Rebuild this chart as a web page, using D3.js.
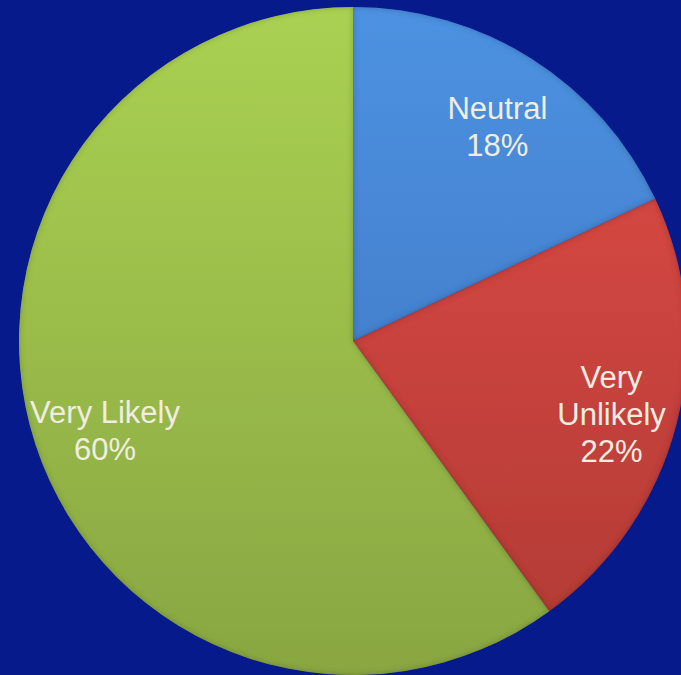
<!DOCTYPE html>
<html>
<head>
<meta charset="utf-8">
<script src="https://cdn.jsdelivr.net/npm/d3@7"></script>
<style>
  html, body { margin: 0; padding: 0; background: #061a8c; }
  svg { display: block; }
</style>
</head>
<body>
<script>
// Survey responses
const categories = ["Neutral", "Very Unlikely", "Very Likely"];
const values = [18, 22, 60];
const labelLines = [["Neutral", "18%"], ["Very", "Unlikely", "22%"], ["Very Likely", "60%"]];
const topColors = ["#4d92e2", "#e24c48", "#aad152"];
const bottomColors = ["#3b70b9", "#b03a34", "#89a642"];

const width = 681, height = 675;
const cx = 353, cy = 341, radius = 334;

const svg = d3.select("body").append("svg")
  .attr("width", width).attr("height", height);

svg.append("rect").attr("width", width).attr("height", height).attr("fill", "#061a8c");

const defs = svg.append("defs");
categories.forEach((c, i) => {
  const g = defs.append("linearGradient")
    .attr("id", "grad" + i)
    .attr("gradientUnits", "userSpaceOnUse")
    .attr("x1", 0).attr("y1", -radius).attr("x2", 0).attr("y2", radius);
  g.append("stop").attr("offset", "0%").attr("stop-color", topColors[i]);
  g.append("stop").attr("offset", "100%").attr("stop-color", bottomColors[i]);
});

// soft bevel: darkened band just inside each slice edge
const bevel = defs.append("filter").attr("id", "bevel")
  .attr("x", "-5%").attr("y", "-5%").attr("width", "110%").attr("height", "110%");
bevel.append("feGaussianBlur").attr("in", "SourceAlpha").attr("stdDeviation", 3).attr("result", "blur");
bevel.append("feComposite").attr("in", "SourceAlpha").attr("in2", "blur")
  .attr("operator", "arithmetic").attr("k1", 0).attr("k2", 1).attr("k3", -1).attr("k4", 0)
  .attr("result", "edge");
bevel.append("feFlood").attr("flood-color", "#000000").attr("flood-opacity", 0.45).attr("result", "shade");
bevel.append("feComposite").attr("in", "shade").attr("in2", "edge").attr("operator", "in").attr("result", "edgeShade");
const merge = bevel.append("feMerge");
merge.append("feMergeNode").attr("in", "SourceGraphic");
merge.append("feMergeNode").attr("in", "edgeShade");

const pie = d3.pie().sort(null).value(d => d);
const arcs = pie(values);
const arc = d3.arc().innerRadius(0).outerRadius(radius);
const labelArc = d3.arc().innerRadius(radius * 0.79).outerRadius(radius * 0.79);

const g = svg.append("g").attr("transform", `translate(${cx},${cy})`);

g.selectAll("path.slice")
  .data(arcs)
  .join("path")
  .attr("class", "slice")
  .attr("d", arc)
  .attr("fill", (d, i) => `url(#grad${i})`)
  .attr("filter", "url(#bevel)");

const lineH = 37;
const labelDrop = 8;
const labels = g.selectAll("text.lbl")
  .data(arcs)
  .join("text")
  .attr("class", "lbl")
  .attr("transform", d => {
    const [x, y] = labelArc.centroid(d);
    return `translate(${x + 3},${y + labelDrop})`;
  })
  .attr("text-anchor", "middle")
  .attr("font-family", "Liberation Sans, Arial, sans-serif")
  .attr("font-size", 31)
  .attr("fill", "#f1ede0");

labels.each(function(d, i) {
  const lines = labelLines[i];
  const t = d3.select(this);
  const off = -(lines.length - 1) / 2 * lineH;
  lines.forEach((s, k) => {
    t.append("tspan").attr("x", 0).attr("y", off + k * lineH).attr("dy", "0.35em").text(s);
  });
});
</script>
</body>
</html>
